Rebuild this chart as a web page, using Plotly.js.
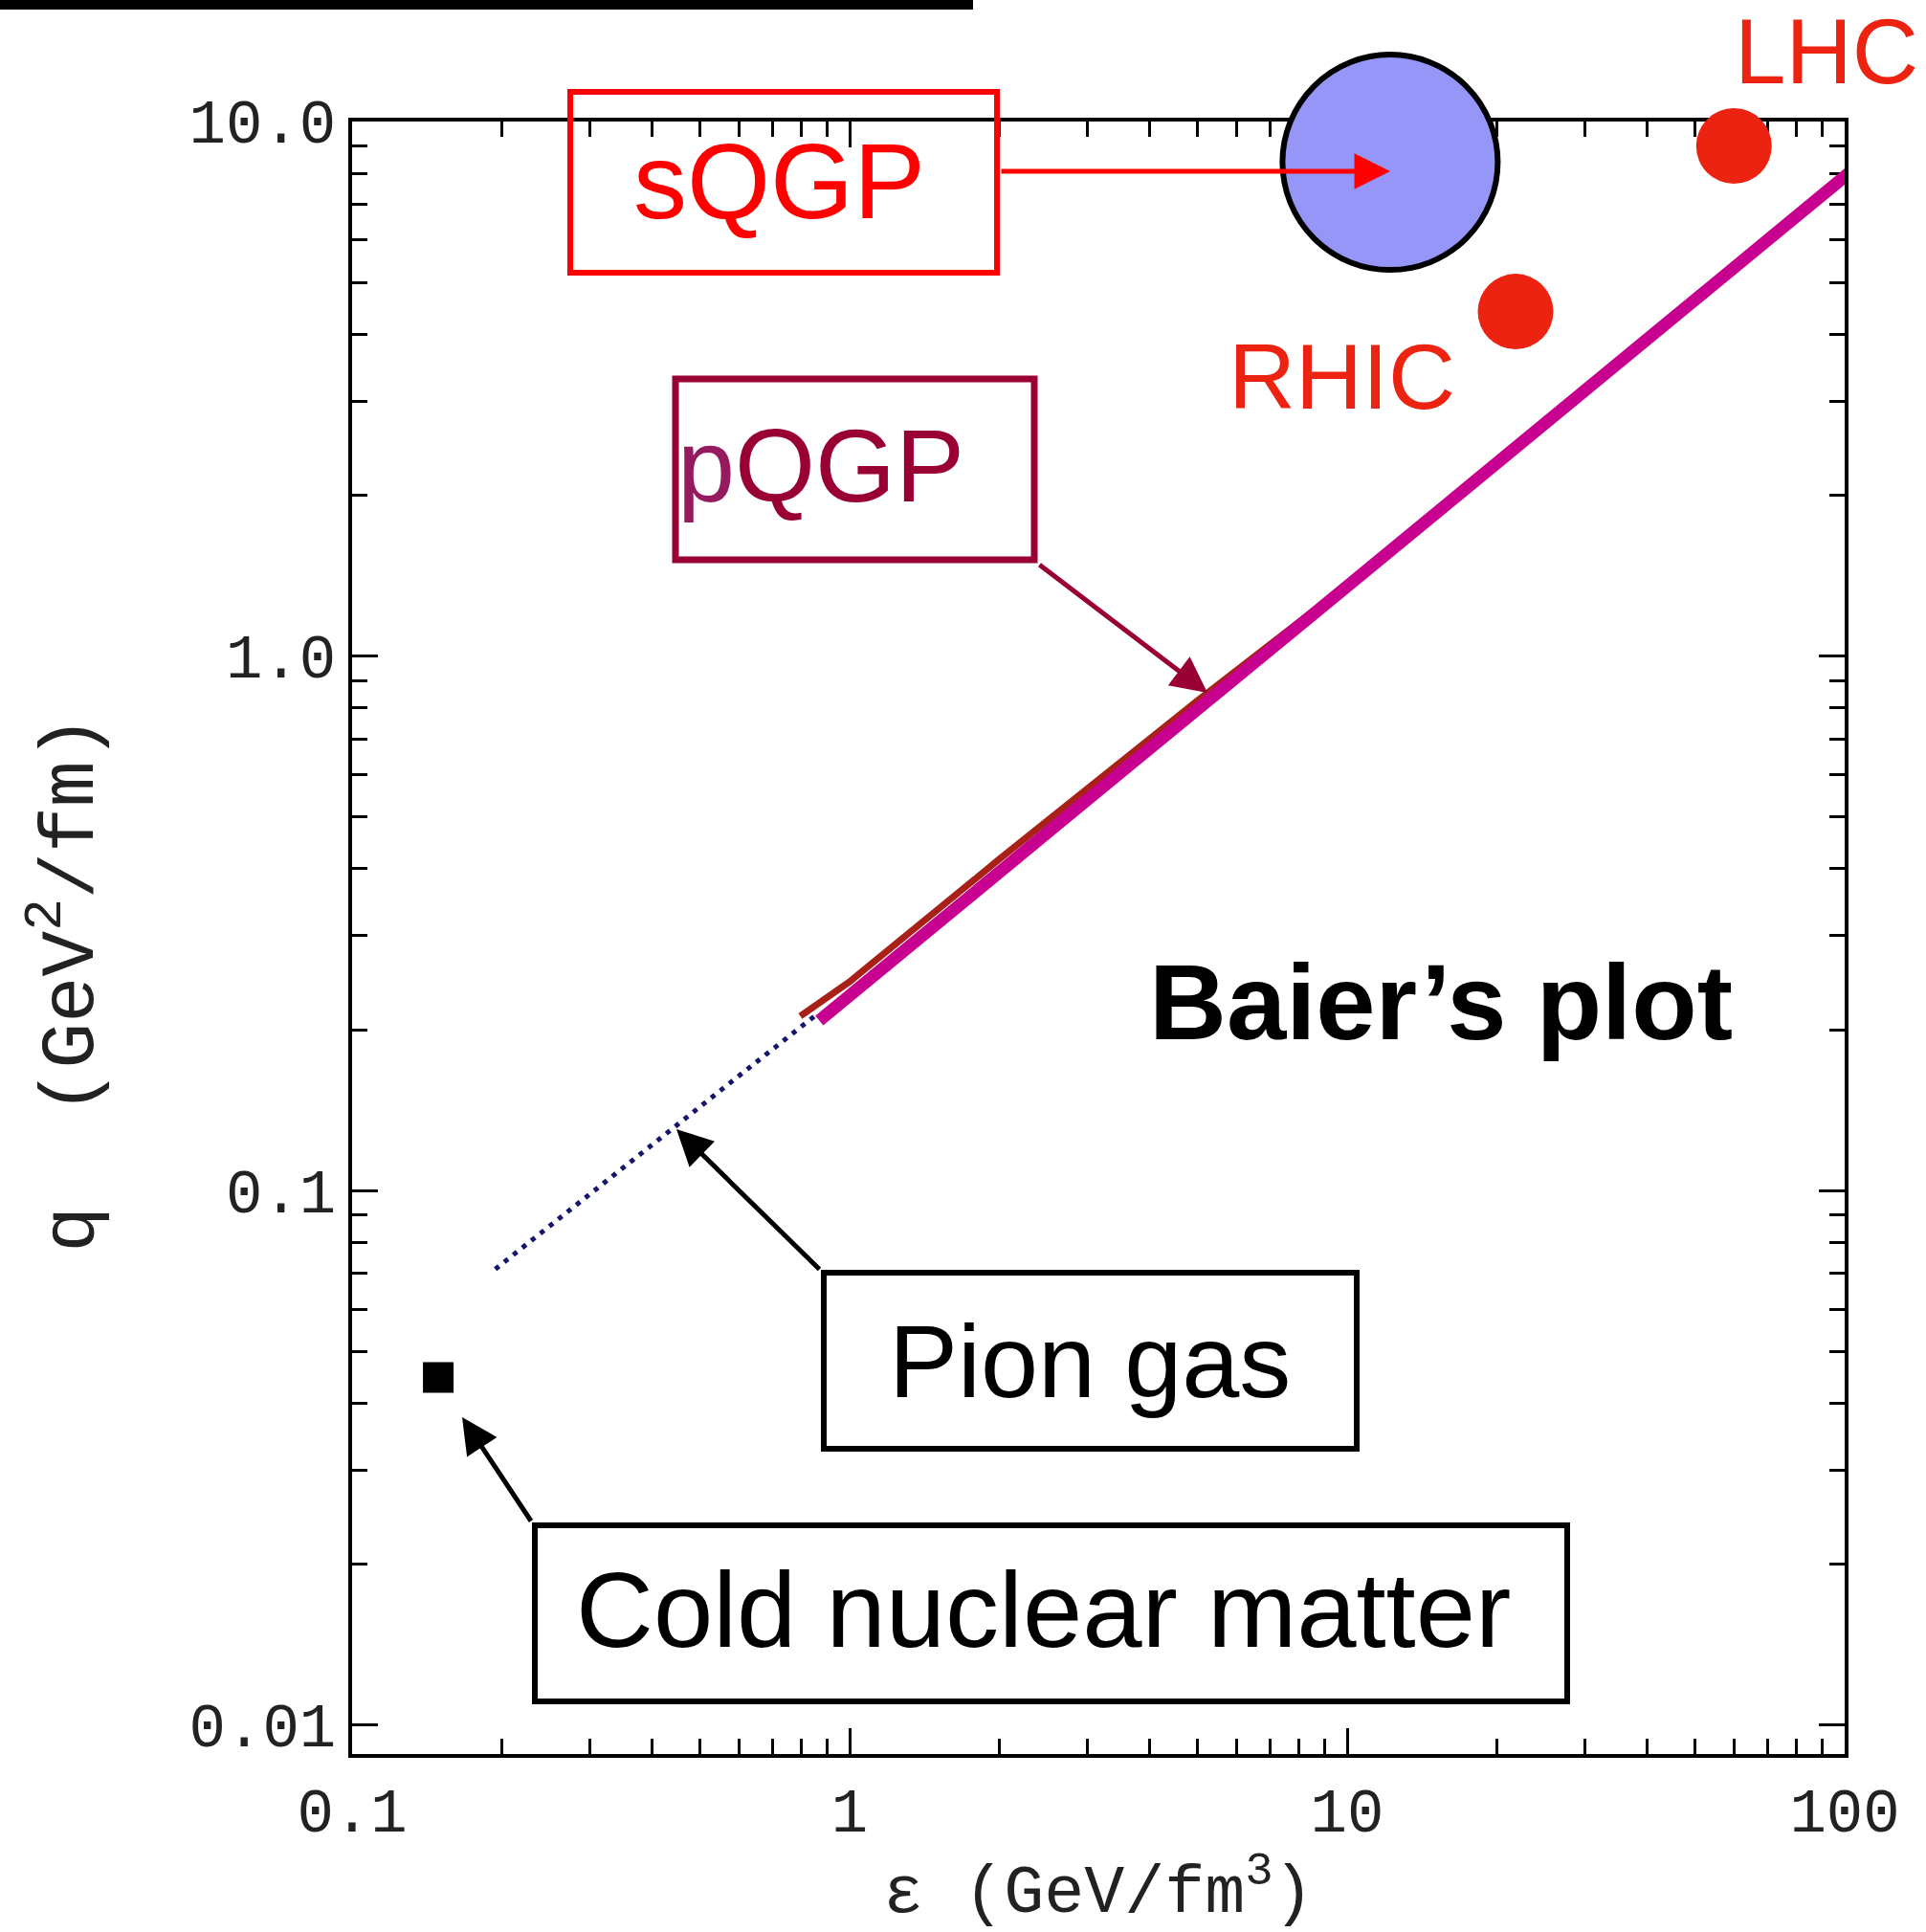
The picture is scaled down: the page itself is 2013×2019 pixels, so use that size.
<!DOCTYPE html>
<html>
<head>
<meta charset="utf-8">
<script src="https://cdn.plot.ly/plotly-3.0.1.min.js"></script>
<style>html,body{margin:0;padding:0;background:#fff;}#chart{width:2013px;height:2019px;}</style>
</head>
<body>
<div id="chart"></div>
<script>
// ---------- data ----------
// pQGP curve (magenta) : energy density eps (GeV/fm^3) vs qhat (GeV^2/fm)
const pqgpEps  = [0.869, 1, 3, 10, 30, 106];
const pqgpQhat = [0.208, 0.232, 0.538, 1.35, 3.13, 8.25];
// underlying red (original) curve, visible just above the magenta one
const redEps  = [0.796, 1, 2, 5, 10];
const redQhat = [0.212, 0.246, 0.417, 0.825, 1.36];
// pion gas (dotted)
const pionEps  = [0.194, 0.234, 0.315, 0.435, 0.584, 0.783, 0.85];
const pionQhat = [0.0713, 0.082, 0.102, 0.1294, 0.1609, 0.1996, 0.212];
// cold nuclear matter
const coldEps  = [0.149];
const coldQhat = [0.0447];
// sQGP region
const sqgpEps  = [12.2];
const sqgpQhat = [8.39];
// RHIC and LHC points
const colliderNames = ['RHIC', 'LHC'];
const colliderEps   = [21.8, 59.9];
const colliderQhat  = [4.41, 9.0];
// axis ticks
const xTickVals = [0.1, 1, 10, 100];
const xTickText = ['0.1', '1', '10', '100'];
const yTickVals = [0.01, 0.1, 1, 10];
const yTickText = ['0.01', '0.1', '1.0', '10.0'];
const xMinor = [0.2,0.3,0.4,0.5,0.6,0.7,0.8,0.9,2,3,4,5,6,7,8,9,20,30,40,50,60,70,80,90];
const yMinor = [0.02,0.03,0.04,0.05,0.06,0.07,0.08,0.09,0.2,0.3,0.4,0.5,0.6,0.7,0.8,0.9,2,3,4,5,6,7,8,9];

// ---------- layout helpers (image pixels -> paper) ----------
const W = 2013, H = 2019;
const M = {l: 368, r: 85, t: 127, b: 186};
const PW = W - M.l - M.r, PH = H - M.t - M.b;
const px = X => (X - M.l) / PW;
const py = Y => (H - M.b - Y) / PH;

const sansFont = 'Liberation Sans, Arial, sans-serif';
const monoFont = 'Liberation Mono, Courier New, monospace';

const traces = [
  {x: pionEps, y: pionQhat, mode: 'lines', line: {color: '#15156b', width: 5, dash: '5px,7px'}},
  {x: redEps, y: redQhat, mode: 'lines', line: {color: '#a82018', width: 7}},
  {x: pqgpEps, y: pqgpQhat, mode: 'lines', line: {color: '#c8008f', width: 13}, cliponaxis: false},
  {x: coldEps, y: coldQhat, mode: 'markers', marker: {symbol: 'square', size: 32, color: '#000'}},
  {x: sqgpEps, y: sqgpQhat, mode: 'markers', cliponaxis: false,
   marker: {symbol: 'circle', size: 225, color: '#9696f8', line: {color: '#000', width: 6}}},
  {x: colliderEps, y: colliderQhat, text: colliderNames, mode: 'markers', cliponaxis: false,
   marker: {symbol: 'circle', size: 79, color: '#ec2310'}}
];

function rect(x0, y0, x1, y1, color, w) {
  return {type: 'rect', xref: 'paper', yref: 'paper', x0: px(x0), x1: px(x1), y0: py(y1), y1: py(y0),
          line: {color: color, width: w}, fillcolor: 'rgba(0,0,0,0)', layer: 'above'};
}
const shapes = [
  {type: 'rect', xref: 'paper', yref: 'paper', x0: px(0), x1: px(1017), y0: py(10), y1: py(0),
   line: {width: 0}, fillcolor: '#000', layer: 'above'},
  rect(596, 96, 1042, 285, '#ff0000', 6),
  rect(706, 396, 1081, 585, '#990033', 7),
  rect(861, 1330, 1418, 1514, '#000', 6),
  rect(559, 1594, 1638, 1778, '#000', 6)
];

function label(X, Y, text, size, color, bold) {
  return {xref: 'paper', yref: 'paper', x: px(X), y: py(Y), xanchor: 'center', yanchor: 'middle',
          showarrow: false, text: bold ? '<b>' + text + '</b>' : text,
          font: {family: sansFont, size: size, color: color}};
}
function arrow(tailX, tailY, tipX, tipY, color) {
  return {xref: 'paper', yref: 'paper', x: px(tipX), y: py(tipY), ax: tailX - tipX, ay: tailY - tipY,
          text: '', showarrow: true, arrowhead: 2, arrowsize: 1.5, arrowwidth: 5, arrowcolor: color, standoff: 0};
}
const annotations = [
  label(814, 189, 'sQGP', 112, '#ff0000'),
  label(858, 486, '<span style="color:#951a5e">p</span>QGP', 108, '#990033'),
  label(1402, 393, colliderNames[0], 97, '#ec2310'),
  label(1909, 54, colliderNames[1], 96, '#ec2310'),
  label(1506, 1047, 'Baier’s plot', 112, '#000', true),
  label(1139, 1422, 'Pion gas', 108, '#000'),
  label(1090, 1682, 'Cold nuclear matter', 112, '#000'),
  arrow(1045, 179, 1453, 179, '#ff0000'),
  arrow(1085, 589, 1262, 724, '#990033'),
  arrow(858, 1328, 707, 1180, '#000'),
  arrow(556, 1591, 483, 1481, '#000')
];

const axisCommon = {
  type: 'log', showline: true, linewidth: 4, linecolor: '#000', mirror: 'ticks',
  ticks: 'inside', ticklen: 27, tickwidth: 3, tickcolor: '#000', tickmode: 'array',
  showgrid: false, zeroline: false, layer: 'below traces',
  tickfont: {family: monoFont, size: 64, color: '#222'}
};

const layout = {
  width: W, height: H, autosize: false,
  margin: {l: M.l, r: M.r, t: M.t, b: M.b, pad: 0},
  paper_bgcolor: '#fff', plot_bgcolor: '#fff', showlegend: false,
  xaxis: Object.assign({}, axisCommon, {
    range: [-1, 2], tickvals: xTickVals, ticktext: xTickText, ticklabelstandoff: 0,
    minor: {tickmode: 'array', tickvals: xMinor, ticks: 'inside', ticklen: 16, tickwidth: 3, tickcolor: '#000'},
    title: {text: 'ε (GeV/fm<sup>3</sup>)', font: {family: monoFont, size: 70, color: '#222'}, standoff: 42}
  }),
  yaxis: Object.assign({}, axisCommon, {
    range: [-2.054, 1], tickvals: yTickVals, ticktext: yTickText, ticklabelstandoff: 0,
    minor: {tickmode: 'array', tickvals: yMinor, ticks: 'inside', ticklen: 16, tickwidth: 3, tickcolor: '#000'},
    title: {text: 'q\u00a0\u00a0(GeV<sup>2</sup>/fm)<span style="color:rgba(0,0,0,0)">..</span>',
            font: {family: monoFont, size: 80, color: '#222'}, standoff: 75}
  }),
  shapes: shapes,
  annotations: annotations
};

Plotly.newPlot('chart', traces, layout, {staticPlot: true, displayModeBar: false});
</script>
</body>
</html>
